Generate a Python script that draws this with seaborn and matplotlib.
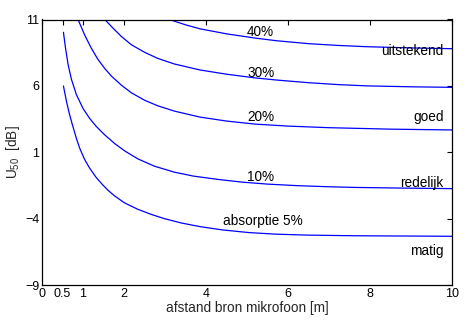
import numpy as np
import pandas as pd
import matplotlib
matplotlib.use("Agg")
import matplotlib.pyplot as plt
import seaborn as sns

# distances [m] and U50 [dB], per absorption level
x_5 = [0.523, 0.596, 0.661, 0.734, 0.838, 0.92, 1.041, 1.162, 1.322, 1.47, 1.605, 1.775,
       2.017, 2.339, 2.663, 2.985, 3.4, 3.85, 4.4, 5.04, 5.7, 6.45, 7.6, 8.8, 10.0]
y_5 = [5.99, 4.85, 3.98, 3.15, 2.05, 1.3, 0.45, -0.2, -0.9, -1.42, -1.85, -2.3,
       -2.82, -3.3, -3.68, -4.0, -4.33, -4.6, -4.85, -5.05, -5.17, -5.24, -5.29, -5.31, -5.33]

x_10 = [0.523, 0.571, 0.637, 0.717, 0.838, 1.0, 1.162, 1.322, 1.533, 1.775, 2.017,
        2.339, 2.743, 3.228, 3.7, 4.3, 4.88, 5.5, 6.25, 7.0, 7.63, 8.8, 10.0]
y_10 = [10.04, 8.9, 7.6, 6.5, 5.35, 4.3, 3.55, 2.95, 2.3, 1.65, 1.1,
        0.5, -0.05, -0.5, -0.8, -1.05, -1.25, -1.4, -1.52, -1.6, -1.65, -1.7, -1.74]

x_20 = [0.879, 1.041, 1.201, 1.363, 1.533, 1.695, 1.937, 2.179, 2.501, 2.823, 3.228,
        3.85, 4.5, 5.2, 6.0, 7.0, 8.5, 10.0]
y_20 = [11.0, 9.83, 8.85, 8.0, 7.3, 6.73, 6.05, 5.48, 4.92, 4.5, 4.1,
        3.65, 3.35, 3.12, 2.97, 2.85, 2.74, 2.68]

x_30 = [1.533, 1.734, 1.937, 2.179, 2.501, 2.823, 3.228, 3.85, 4.5, 5.2, 5.72, 6.5,
        7.2, 7.92, 9.0, 10.0]
y_30 = [11.0, 10.34, 9.72, 9.1, 8.53, 8.07, 7.65, 7.2, 6.88, 6.6, 6.44, 6.24,
        6.1, 6.0, 5.93, 5.89]

x_40 = [3.106, 3.5, 3.85, 4.5, 5.2, 5.72, 6.5, 7.2, 7.92, 9.0, 10.0]
y_40 = [11.0, 10.6, 10.3, 9.92, 9.6, 9.4, 9.18, 9.05, 8.95, 8.86, 8.8]

series = [("5%", x_5, y_5), ("10%", x_10, y_10), ("20%", x_20, y_20),
          ("30%", x_30, y_30), ("40%", x_40, y_40)]

curve_labels = ["40%", "30%", "20%", "10%", "absorptie 5%"]
curve_label_x = [5.0, 5.0, 5.0, 5.0, 4.42]
curve_label_y = [9.76, 6.69, 3.38, -1.14, -4.5]

quality_labels = ["uitstekend", "goed", "redelijk", "matig"]
quality_label_y = [8.33, 3.38, -1.62, -6.74]

x_ticks = [0, 0.5, 1, 2, 4, 6, 8, 10]
x_ticklabels = ["0", "0.5", "1", "2", "4", "6", "8", "10"]
y_ticks = [-9, -4, 1, 6, 11]

rows = []
for name, xs, ys in series:
    for xv, yv in zip(xs, ys):
        rows.append({"absorptie": name, "afstand": xv, "U50": yv})
df = pd.DataFrame(rows)

sns.set_style("white")
plt.rcParams["font.family"] = ["Liberation Sans", "DejaVu Sans"]
plt.rcParams["mathtext.fontset"] = "custom"
plt.rcParams["mathtext.rm"] = "Liberation Sans"
plt.rcParams["mathtext.it"] = "Liberation Sans"

fig = plt.figure(figsize=(4.72, 3.25), dpi=100)
ax = fig.add_axes([42 / 472, 40 / 325, 410 / 472, 265.5 / 325])

sns.lineplot(data=df, x="afstand", y="U50", hue="absorptie",
             palette=["#0000ff"] * 5, estimator=None, sort=False,
             legend=False, linewidth=0.9, ax=ax)

ax.set_xlim(0, 10)
ax.set_ylim(-9, 11)
ax.set_xticks(x_ticks)
ax.set_xticklabels(x_ticklabels)
ax.set_yticks(y_ticks)
ax.tick_params(direction="in", length=3.5, width=0.8, top=True, right=True,
               labelsize=9, colors="black", pad=2)
for sp in ax.spines.values():
    sp.set_visible(True)
    sp.set_color("black")
    sp.set_linewidth(0.9)

for t, xv, yv in zip(curve_labels, curve_label_x, curve_label_y):
    ax.text(xv, yv, t, fontsize=9.8, ha="left", va="baseline", color="black")
for t, yv in zip(quality_labels, quality_label_y):
    ax.text(9.79, yv, t, fontsize=9.8, ha="right", va="baseline", color="black")

ax.set_xlabel("afstand bron mikrofoon [m]", fontsize=9.8, labelpad=1)
ax.set_ylabel(r"U$_{50}$  [dB]", fontsize=9.8, labelpad=2)

fig.savefig("out.png", dpi=100)
